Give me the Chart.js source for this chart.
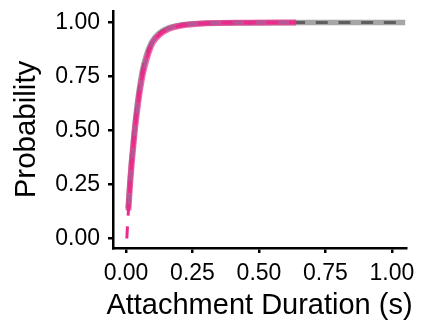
<!DOCTYPE html>
<html>
<head>
<meta charset="utf-8">
<script src="https://cdn.jsdelivr.net/npm/chart.js@4"></script>
<style>
  html, body { margin: 0; padding: 0; background: #fff; }
  #wrap { width: 428px; height: 325px; }
</style>
</head>
<body>
<div id="wrap"><canvas id="cdf"></canvas></div>
<script>
/* ---------- data ---------- */
const xTicks = [0, 0.25, 0.5, 0.75, 1];
const yTicks = [0, 0.25, 0.5, 0.75, 1];
const xTitle = 'Attachment Duration (s)';
const yTitle = 'Probability';

// empirical CDF, gray group (runs to the end of the axis)
const grayX = [0.008, 0.011, 0.015, 0.020, 0.026, 0.033, 0.041, 0.051, 0.062, 0.077, 0.097, 0.124, 0.16, 0.21, 0.29, 0.45, 0.70, 1.05];
const grayY = [0.14, 0.20, 0.27, 0.35, 0.43, 0.52, 0.61, 0.70, 0.78, 0.85, 0.91, 0.95, 0.975, 0.989, 0.996, 0.999, 1.0, 1.0];

// fitted curve, gray group (dark dashes)
const grayFitX = [0.008, 0.011, 0.015, 0.020, 0.026, 0.033, 0.041, 0.051, 0.062, 0.077, 0.097, 0.124, 0.16, 0.21, 0.29, 0.45, 0.70, 1.05];
const grayFitY = [0.13, 0.19, 0.27, 0.35, 0.43, 0.52, 0.61, 0.70, 0.78, 0.85, 0.905, 0.948, 0.974, 0.988, 0.996, 0.999, 1.0, 1.0];

// fitted curve, teal group (mostly hidden)
const tealFitX = [0.010, 0.016, 0.027, 0.043, 0.065, 0.10, 0.128, 0.165, 0.22, 0.30, 0.45, 0.64];
const tealFitY = [0.15, 0.26, 0.42, 0.60, 0.77, 0.905, 0.947, 0.974, 0.988, 0.996, 0.999, 1.0];

// empirical CDF, pink group
const pinkX = [0.009, 0.012, 0.016, 0.021, 0.027, 0.034, 0.043, 0.053, 0.065, 0.08, 0.10, 0.128, 0.165, 0.22, 0.30, 0.45, 0.64];
const pinkY = [0.13, 0.19, 0.26, 0.34, 0.42, 0.51, 0.60, 0.69, 0.77, 0.84, 0.905, 0.945, 0.972, 0.988, 0.996, 0.999, 1.0];

// fitted curve, pink group (starts at zero)
const pinkFitX = [0.003, 0.006, 0.009, 0.012, 0.016, 0.021, 0.027, 0.034, 0.043, 0.053, 0.065, 0.08, 0.10, 0.128, 0.165, 0.22, 0.30, 0.45, 0.64];
const pinkFitY = [0.0, 0.07, 0.13, 0.19, 0.26, 0.34, 0.42, 0.51, 0.60, 0.69, 0.77, 0.84, 0.905, 0.945, 0.972, 0.988, 0.996, 0.999, 1.0];

/* ---------- helpers ---------- */
const pts = (xs, ys) => xs.map((x, i) => ({ x, y: ys[i] }));

// order: higher numbers are drawn first (underneath)
function line(xs, ys, color, width, order, dash) {
  return {
    data: pts(xs, ys),
    showLine: true,
    borderColor: color,
    borderWidth: width,
    borderDash: dash || [],
    borderCapStyle: 'butt',
    pointRadius: 0,
    fill: false,
    order,
    cubicInterpolationMode: 'monotone'
  };
}

const FONT = "'Liberation Sans', Arial, sans-serif";
const DASH = [12, 10.7];

/* x title drawn by hand so Chart.js doesn't squeeze it to the plot width */
const xTitlePlugin = {
  id: 'xTitle',
  afterDraw(chart) {
    const { ctx, chartArea } = chart;
    ctx.save();
    ctx.font = `29px ${FONT}`;
    ctx.fillStyle = '#000';
    ctx.textAlign = 'center';
    ctx.textBaseline = 'middle';
    ctx.fillText(xTitle, (chartArea.left + chartArea.right) / 2, 306);
    ctx.restore();
  }
};

/* ---------- chart ---------- */
new Chart(document.getElementById('cdf'), {
  type: 'scatter',
  data: {
    datasets: [
      line(grayX, grayY, 'rgba(150,150,150,0.85)', 5.5, 5),
      line(grayFitX, grayFitY, '#5f5f5f', 3, 4, DASH),
      line(tealFitX, tealFitY, '#4fb0b0', 3, 3, DASH),
      line(pinkX, pinkY, 'rgba(231,41,138,0.68)', 6, 2),
      line(pinkFitX, pinkFitY, '#ec2a8c', 3, 1, DASH)
    ]
  },
  plugins: [xTitlePlugin],
  options: {
    responsive: true,
    maintainAspectRatio: false,
    animation: false,
    layout: { padding: { left: 0, right: 22, top: 11, bottom: 0 } },
    plugins: { legend: { display: false }, tooltip: { enabled: false } },
    scales: {
      x: {
        type: 'linear',
        min: -0.049,
        max: 1.053,
        afterBuildTicks: s => { s.ticks = xTicks.map(v => ({ value: v })); },
        afterFit: s => { s.height = 77; s.paddingLeft = 0; s.paddingRight = 0; },
        border: { color: '#000', width: 2.5 },
        grid: { drawOnChartArea: false, color: '#000', lineWidth: 2.5, tickLength: 5 },
        ticks: {
          color: '#000',
          font: { family: FONT, size: 23 },
          padding: 7,
          maxRotation: 0,
          callback: v => v.toFixed(2)
        }
      },
      y: {
        type: 'linear',
        min: -0.044,
        max: 1.053,
        afterBuildTicks: s => { s.ticks = yTicks.map(v => ({ value: v })); },
        afterFit: s => { s.width = 113; s.paddingTop = 0; s.paddingBottom = 0; },
        border: { color: '#000', width: 2.5 },
        grid: { drawOnChartArea: false, color: '#000', lineWidth: 2.5, tickLength: 5 },
        ticks: {
          color: '#000',
          font: { family: FONT, size: 23 },
          padding: 8,
          callback: v => v.toFixed(2)
        },
        title: {
          display: true,
          text: yTitle,
          color: '#000',
          font: { family: FONT, size: 29.5 },
          padding: { top: 9, bottom: 0 }
        }
      }
    }
  }
});
</script>
</body>
</html>
